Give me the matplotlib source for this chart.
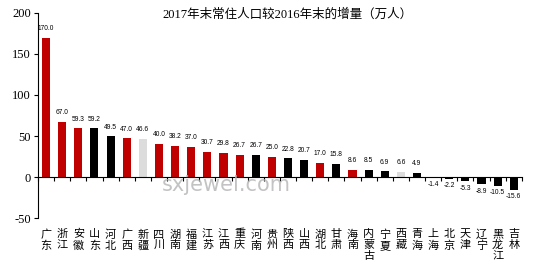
import matplotlib.pyplot as plt
import numpy as np

plt.rcParams['font.family'] = ['Noto Sans CJK SC', 'DejaVu Sans']

# 省份と増量
provinces = ['广东', '浙江', '安徽', '山东', '河北', '广西', '新疆', '四川', '湖南', '福建',
             '江苏', '江西', '重庆', '河南', '贵州', '陕西', '山西', '湖北', '甘肃', '海南',
             '内蒙古', '宁夏', '西藏', '青海', '上海', '北京', '天津', '辽宁', '黑龙江', '吉林']
values = [170.0, 67.0, 59.3, 59.2, 49.5, 47.0, 46.6, 40.0, 38.2, 37.0,
          30.7, 29.8, 26.7, 26.7, 25.0, 22.8, 20.7, 17.0, 15.8, 8.6,
          8.5, 6.9, 6.6, 4.9, -1.4, -2.2, -5.3, -8.9, -10.5, -15.6]
# r=赤, k=黒, g=灰
groups = ['r', 'r', 'r', 'k', 'k', 'r', 'g', 'r', 'r', 'r',
          'r', 'r', 'r', 'k', 'r', 'k', 'k', 'r', 'k', 'r',
          'k', 'k', 'g', 'k', 'k', 'k', 'k', 'k', 'k', 'k']
yticks = [-50, 0, 50, 100, 150, 200]

cmap = {'r': '#C00000', 'k': '#000000', 'g': '#DCDCDC'}
colors = [cmap[g] for g in groups]
x = np.arange(len(provinces))

fig = plt.figure(figsize=(5.43, 2.64), dpi=100)
ax = fig.add_axes([0.070, 0.174, 0.891, 0.777])

ax.bar(x, values, width=0.5, color=colors)

# 値ラベル
for xi, v in zip(x, values):
    if v >= 0:
        ax.text(xi, v + 7, f'{v:.1f}', ha='center', va='bottom', fontsize=4.8,
                family=['Liberation Sans', 'DejaVu Sans'])
    else:
        ax.text(xi, v - 4, f'{v:.1f}', ha='center', va='top', fontsize=4.8,
                family=['Liberation Sans', 'DejaVu Sans'])

ax.set_xlim(-0.5, len(provinces) - 0.5)
ax.set_ylim(-50, 200)
ax.set_yticks(yticks)
ax.set_yticklabels([str(t) for t in yticks], family=['Liberation Serif'], fontsize=9)
ax.tick_params(axis='y', direction='out', length=3, width=0.8, pad=2)

ax.spines['top'].set_visible(False)
ax.spines['right'].set_visible(False)
ax.spines['bottom'].set_position(('data', 0))
ax.set_xticks(np.arange(-0.5, len(provinces), 1.0))
ax.set_xticklabels([])
ax.tick_params(axis='x', direction='out', length=3, width=0.8)

# 省份名を縦書きで下に
for xi, name in zip(x, provinces):
    ax.text(xi, -0.055, '\n'.join(name), ha='center', va='top', fontsize=8,
            linespacing=1.1, transform=ax.get_xaxis_transform())

# ウォーターマーク
ax.text(0.39, 0.16, 'sxjewel.com', ha='center', va='center', fontsize=15,
        color='#B4B4B4', alpha=0.8, family=['DejaVu Sans'], transform=ax.transAxes)

fig.text(0.53, 0.945, '2017年末常住人口较2016年末的增量（万人）', ha='center', va='center',
         fontsize=9, family=['Liberation Serif', 'Noto Sans CJK SC'])

fig.savefig('out.png', dpi=100)
